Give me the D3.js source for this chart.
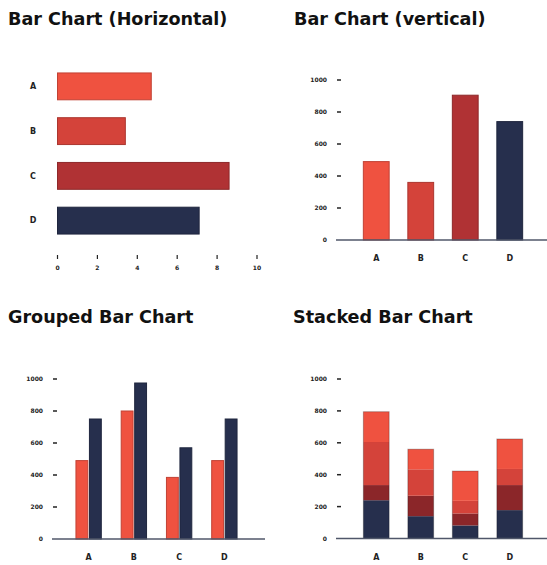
<!DOCTYPE html>
<html>
<head>
<meta charset="utf-8">
<script src="https://cdn.jsdelivr.net/npm/d3@7"></script>
<style>
  body { margin: 0; background: #fff; }
  .chart-title { font-family: "DejaVu Sans", sans-serif; font-weight: bold; fill: #111; }
  .tick-label { font-family: "DejaVu Sans", sans-serif; font-weight: bold; font-size: 6px; fill: #222; }
  .cat-label { font-family: "DejaVu Sans", sans-serif; font-weight: bold; font-size: 8px; fill: #222; }
</style>
</head>
<body>
<div id="chart"></div>
<script>
// ========== Data ==========
const categories = ["A", "B", "C", "D"];
const horizontalValues = [4.7, 3.4, 8.6, 7.1];
const horizontalTicks = [0, 2, 4, 6, 8, 10];
const verticalValues = [490, 360, 905, 740];
const yTicks = [0, 200, 400, 600, 800, 1000];
const groupedSeries = ["first", "second"];
const groupedFirst = [490, 800, 385, 490];
const groupedSecond = [750, 975, 570, 750];
const stackKeys = ["s1", "s2", "s3", "s4"];
const stackS1 = [240, 140, 82, 178];
const stackS2 = [95, 128, 75, 157];
const stackS3 = [270, 166, 79, 101];
const stackS4 = [190, 126, 187, 188];

// ========== Colours ==========
const coral = "#ef5240";
const red = "#d4433a";
const crimson = "#b03234";
const darkRed = "#8b2629";
const navy = "#262f4d";
const barColors = [coral, red, crimson, navy];
const stackColors = [navy, darkRed, red, coral];

const svg = d3.select("#chart").append("svg")
  .attr("width", 547)
  .attr("height", 565);

function strokeOf(c) {
  return d3.color(c).darker(0.6);
}

// ========== Titles ==========
function addTitle(x, y, text) {
  svg.append("text")
    .attr("class", "chart-title")
    .attr("x", x)
    .attr("y", y)
    .attr("font-size", 17.6)
    .text(text);
}
addTitle(8, 25, "Bar Chart (Horizontal)");
addTitle(294, 25, "Bar Chart (vertical)");
addTitle(8, 323, "Grouped Bar Chart");
addTitle(293, 323, "Stacked Bar Chart");

// ========== Shared vertical axis ==========
function drawYAxis(y, xAxis, xLineEnd) {
  const g = svg.append("g");
  g.selectAll("text.tick-label")
    .data(yTicks)
    .enter()
    .append("text")
    .attr("class", "tick-label")
    .attr("x", xAxis - 9)
    .attr("y", (d) => y(d))
    .attr("dy", "0.35em")
    .attr("text-anchor", "end")
    .text((d) => d);
  g.selectAll("line.dash")
    .data(yTicks.filter((d) => d > 0))
    .enter()
    .append("line")
    .attr("x1", xAxis + 1)
    .attr("x2", xAxis + 5)
    .attr("y1", (d) => y(d))
    .attr("y2", (d) => y(d))
    .attr("stroke", "#222")
    .attr("stroke-width", 1.5);
  g.append("line")
    .attr("x1", xAxis)
    .attr("x2", xLineEnd)
    .attr("y1", y(0))
    .attr("y2", y(0))
    .attr("stroke", "#50576a")
    .attr("stroke-width", 1.5);
}

function drawCatLabels(x, yPos) {
  svg.append("g").selectAll("text")
    .data(categories)
    .enter()
    .append("text")
    .attr("class", "cat-label")
    .attr("x", (d) => x(d) + x.bandwidth() / 2)
    .attr("y", yPos)
    .attr("dy", "0.35em")
    .attr("text-anchor", "middle")
    .text((d) => d);
}

// ========== 1. Horizontal ==========
{
  const x = d3.scaleLinear().domain([0, 10]).range([57.5, 257]);
  const y = d3.scaleBand().domain(categories).range([64, 243]).paddingInner(0.4).paddingOuter(0.2);

  svg.append("g").selectAll("rect")
    .data(categories)
    .enter()
    .append("rect")
    .attr("x", x(0))
    .attr("y", (d) => y(d))
    .attr("width", (d, i) => x(horizontalValues[i]) - x(0))
    .attr("height", y.bandwidth())
    .attr("fill", (d, i) => barColors[i])
    .attr("stroke", (d, i) => strokeOf(barColors[i]))
    .attr("stroke-width", 1);

  svg.append("g").selectAll("text")
    .data(categories)
    .enter()
    .append("text")
    .attr("class", "cat-label")
    .attr("x", 33)
    .attr("y", (d) => y(d) + y.bandwidth() / 2)
    .attr("dy", "0.35em")
    .attr("text-anchor", "middle")
    .text((d) => d);

  const ax = svg.append("g");
  ax.selectAll("line")
    .data(horizontalTicks)
    .enter()
    .append("line")
    .attr("x1", (d) => x(d))
    .attr("x2", (d) => x(d))
    .attr("y1", 255)
    .attr("y2", 259)
    .attr("stroke", "#222")
    .attr("stroke-width", 1.2);
  ax.selectAll("text")
    .data(horizontalTicks)
    .enter()
    .append("text")
    .attr("class", "tick-label")
    .attr("x", (d) => x(d))
    .attr("y", 268)
    .attr("dy", "0.35em")
    .attr("text-anchor", "middle")
    .text((d) => d);
}

// ========== 2. Vertical ==========
{
  const x = d3.scaleBand().domain(categories).range([354, 532]).paddingInner(0.42).paddingOuter(0.21);
  const y = d3.scaleLinear().domain([0, 1000]).range([240, 80]);

  svg.append("g").selectAll("rect")
    .data(categories)
    .enter()
    .append("rect")
    .attr("x", (d) => x(d))
    .attr("y", (d, i) => y(verticalValues[i]))
    .attr("width", x.bandwidth())
    .attr("height", (d, i) => y(0) - y(verticalValues[i]))
    .attr("fill", (d, i) => barColors[i])
    .attr("stroke", (d, i) => strokeOf(barColors[i]))
    .attr("stroke-width", 1);

  drawYAxis(y, 336, 547);
  drawCatLabels(x, 258);
}

// ========== 3. Grouped ==========
{
  const x0 = d3.scaleBand().domain(categories).range([66, 247]).paddingInner(0.44).paddingOuter(0.22);
  const x1 = d3.scaleBand().domain(groupedSeries).range([0, x0.bandwidth()]).paddingInner(0.12);
  const y = d3.scaleLinear().domain([0, 1000]).range([539, 379]);
  const groupedColors = [coral, navy];
  const rows = categories.map((c, i) => ({ cat: c, values: [groupedFirst[i], groupedSecond[i]] }));

  svg.append("g").selectAll("g")
    .data(rows)
    .enter()
    .append("g")
    .attr("transform", (d) => `translate(${x0(d.cat)},0)`)
    .selectAll("rect")
    .data((d) => d.values.map((v, j) => ({ key: groupedSeries[j], value: v, j })))
    .enter()
    .append("rect")
    .attr("x", (d) => x1(d.key))
    .attr("y", (d) => y(d.value))
    .attr("width", x1.bandwidth())
    .attr("height", (d) => y(0) - y(d.value))
    .attr("fill", (d) => groupedColors[d.j])
    .attr("stroke", (d) => strokeOf(groupedColors[d.j]))
    .attr("stroke-width", 1);

  drawYAxis(y, 52, 265);
  drawCatLabels(x0, 557);
}

// ========== 4. Stacked ==========
{
  const x = d3.scaleBand().domain(categories).range([354, 532]).paddingInner(0.42).paddingOuter(0.21);
  const y = d3.scaleLinear().domain([0, 1000]).range([538.5, 379]);
  const rows = categories.map((c, i) => ({
    cat: c, s1: stackS1[i], s2: stackS2[i], s3: stackS3[i], s4: stackS4[i],
  }));
  const stacked = d3.stack().keys(stackKeys)(rows);

  svg.append("g").selectAll("g")
    .data(stacked)
    .enter()
    .append("g")
    .attr("fill", (d, i) => stackColors[i])
    .selectAll("rect")
    .data((d) => d)
    .enter()
    .append("rect")
    .attr("x", (d) => x(d.data.cat))
    .attr("y", (d) => y(d[1]))
    .attr("width", x.bandwidth())
    .attr("height", (d) => y(d[0]) - y(d[1]));

  // thin outline round each full bar
  svg.append("g").selectAll("rect")
    .data(rows)
    .enter()
    .append("rect")
    .attr("x", (d) => x(d.cat))
    .attr("y", (d) => y(d.s1 + d.s2 + d.s3 + d.s4))
    .attr("width", x.bandwidth())
    .attr("height", (d) => y(0) - y(d.s1 + d.s2 + d.s3 + d.s4))
    .attr("fill", "none")
    .attr("stroke", "#000")
    .attr("stroke-opacity", 0.25)
    .attr("stroke-width", 1);

  drawYAxis(y, 336, 547);
  drawCatLabels(x, 557);
}
</script>
</body>
</html>
